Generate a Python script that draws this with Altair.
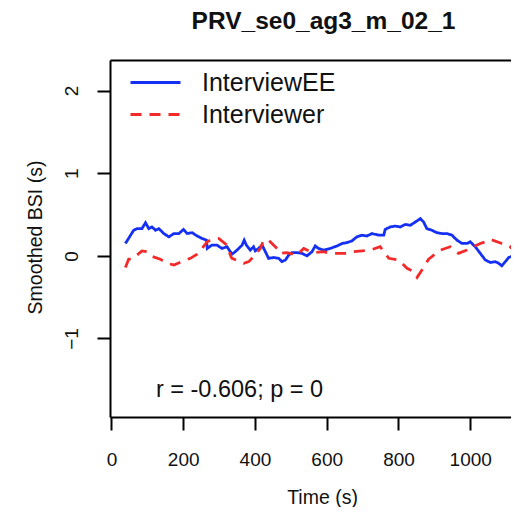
import altair as alt
import pandas as pd

# InterviewEE (blue, solid)
ee_time = [39, 62, 72, 85, 95, 104, 113, 123, 132, 146, 160, 174, 188, 201, 211, 225, 239, 253, 265, 267,
           280, 294, 308, 322, 336, 345, 355, 364, 370, 376, 387, 396, 401, 410, 420, 429, 438, 452, 466, 475,
           485, 494, 503, 517, 531, 545, 559, 568, 577, 591, 610, 629, 643, 656, 670, 684, 698, 712, 726, 745,
           759, 763, 777, 791, 805, 819, 833, 847, 861, 870, 879, 893, 907, 921, 935, 949, 963, 977, 991, 1000,
           1014, 1028, 1042, 1056, 1070, 1079, 1088, 1098, 1107, 1121, 1125, 1137]
ee_bsi = [0.15, 0.31, 0.33, 0.33, 0.40, 0.33, 0.35, 0.31, 0.33, 0.27, 0.23, 0.27, 0.27, 0.32, 0.27, 0.28, 0.24, 0.21, 0.19, 0.09,
          0.13, 0.13, 0.09, 0.11, 0.02, 0.05, 0.09, 0.13, 0.19, 0.13, 0.07, 0.11, 0.06, 0.09, 0.13, 0.05, -0.03, -0.02, -0.03, -0.07,
          -0.05, 0.01, 0.04, 0.04, 0.03, 0.00, 0.05, 0.12, 0.09, 0.07, 0.09, 0.12, 0.15, 0.16, 0.18, 0.23, 0.25, 0.24, 0.27, 0.25,
          0.25, 0.32, 0.35, 0.36, 0.35, 0.38, 0.37, 0.41, 0.45, 0.41, 0.33, 0.31, 0.28, 0.27, 0.27, 0.25, 0.19, 0.15, 0.15, 0.17,
          0.11, 0.03, -0.05, -0.08, -0.07, -0.09, -0.12, -0.07, -0.02, 0.00, 0.09, 0.12]

# Interviewer (red, dashed)
er_time = [39, 48, 58, 85, 99, 109, 136, 155, 174, 201, 220, 239, 267, 280, 299, 322, 333, 336, 369, 383,
           396, 415, 424, 438, 466, 470, 489, 517, 536, 545, 563, 591, 610, 652, 675, 721, 749, 773, 801, 824,
           842, 852, 870, 884, 917, 944, 967, 991, 1028, 1042, 1056, 1088, 1107, 1116]
er_bsi = [-0.14, -0.04, -0.04, 0.06, 0.05, 0.00, -0.04, -0.09, -0.11, -0.06, -0.03, 0.02, 0.17, 0.20, 0.21, 0.13, -0.01, -0.03, -0.09, -0.07,
          -0.01, 0.09, 0.19, 0.19, 0.07, 0.03, 0.04, 0.01, 0.09, 0.07, 0.04, 0.05, 0.03, 0.03, 0.05, 0.07, 0.11, -0.03, -0.05, -0.15,
          -0.19, -0.26, -0.14, -0.04, 0.07, 0.11, 0.03, 0.07, 0.15, 0.17, 0.20, 0.15, 0.13, 0.09]

series_names = ["InterviewEE", "Interviewer"]
series_colors = ["#1530f2", "#f22a2a"]
x_ticks = [0, 200, 400, 600, 800, 1000]
y_ticks = [-1, 0, 1, 2]
annot_text = ["r = -0.606; p = 0"]
annot_x = [357]
annot_y = [-1.62]

df = pd.concat([
    pd.DataFrame({"time": ee_time, "bsi": ee_bsi, "who": series_names[0]}),
    pd.DataFrame({"time": er_time, "bsi": er_bsi, "who": series_names[1]}),
])
ann = pd.DataFrame({"x": annot_x, "y": annot_y, "label": annot_text})

FONT = "Liberation Sans"
xs = alt.Scale(domain=[-4, 1113.6], nice=False, zero=False)
ys = alt.Scale(domain=[-1.95, 2.37], nice=False, zero=False)

lines = alt.Chart(df).mark_line(strokeWidth=2.8, interpolate="linear", clip=True).encode(
    x=alt.X("time:Q", scale=xs, axis=alt.Axis(
        values=x_ticks, format="d", title="Time (s)", orient="bottom", grid=False,
        domainColor="black", domainWidth=2, tickColor="black", tickWidth=2, tickSize=13,
        labelFontSize=19, labelFont=FONT, labelColor="#111", labelPadding=20,
        titleFontSize=19.5, titleFont=FONT, titleFontWeight="normal", titleColor="#111",
        titleX=212, titleY=86, titleBaseline="alphabetic", titleAnchor="middle", titleAlign="center")),
    y=alt.Y("bsi:Q", scale=ys, axis=alt.Axis(
        values=y_ticks, format="d", title="Smoothed BSI (s)", grid=False,
        domainColor="black", domainWidth=2, tickColor="black", tickWidth=2, tickSize=13,
        labelFontSize=19, labelFont=FONT, labelColor="#111", labelAngle=-90,
        labelAlign="center", labelBaseline="bottom", labelPadding=16,
        titleFontSize=19.5, titleFont=FONT, titleFontWeight="normal", titleColor="#111",
        titleAngle=-90, titleX=-75, titleY=177, titleBaseline="middle", titleAlign="center")),
    color=alt.Color("who:N", scale=alt.Scale(domain=series_names, range=series_colors),
                    legend=alt.Legend(title=None, orient="none", legendX=33, legendY=10,
                                      symbolType="M-2.5,0H2.5", symbolSize=400, symbolStrokeWidth=2.8,
                                      labelFontSize=25, labelFont=FONT, labelColor="#111",
                                      labelOffset=34, rowPadding=6, padding=0)),
    strokeDash=alt.StrokeDash("who:N", scale=alt.Scale(domain=series_names, range=[[1, 0], [11, 8]]),
                              legend=None),
    order="time:Q",
)

top_axis = alt.Chart(df).mark_line(opacity=0, clip=True).encode(
    x=alt.X("time:Q", scale=xs, axis=alt.Axis(orient="top", labels=False, ticks=False, title=None,
                                               domainColor="black", domainWidth=2, grid=False)),
    y=alt.Y("bsi:Q", scale=ys),
)

text = alt.Chart(ann).mark_text(fontSize=23.5, font=FONT, color="#111", align="center", baseline="middle").encode(
    x=alt.X("x:Q", scale=xs, axis=None), y=alt.Y("y:Q", scale=ys), text="label:N")

chart = alt.layer(lines, top_axis, text).resolve_axis(x="independent").properties(
    width=401, height=357,
    title=alt.TitleParams("PRV_se0_ag3_m_02_1", fontSize=24.5, font=FONT, fontWeight="bold", color="#111",
                          anchor="middle", dx=13, offset=7, baseline="alphabetic"),
    autosize=alt.AutoSizeParams(type="none"),
    padding={"left": 102, "top": 52, "right": 0, "bottom": 90},
).configure_view(stroke=None).configure(background="white")

chart.save("out.html", embed_options={"renderer": "svg", "actions": False})
